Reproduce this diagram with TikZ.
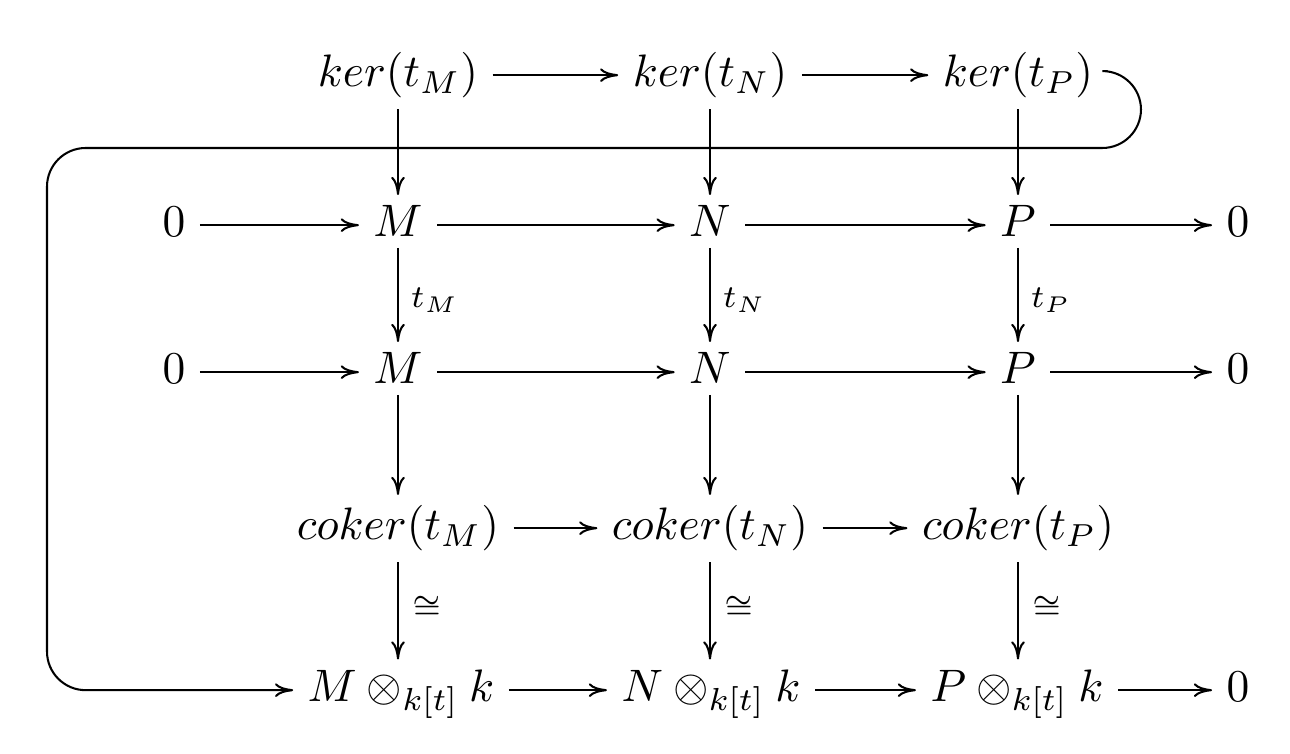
\documentclass[tikz,border=0pt]{standalone}
\usetikzlibrary{arrows.meta}
\begin{document}
\begin{tikzpicture}[x=0.2198pt,y=-0.2198pt,
  obj/.style={anchor=base,inner xsep=3pt,inner ysep=2.2pt},
  ar/.style={line width=0.45pt,-{Computer Modern Rightarrow[length=4pt,width=3pt]}},
  lab/.style={anchor=west,inner sep=0pt}]
\useasboundingbox (0,0) rectangle (1290,754);
% row 1
\node[obj] (k1) at (398,87) {$ker(t_M)$};
\node[obj] (k2) at (710,87) {$ker(t_N)$};
\node[obj] (k3) at (1018,87) {$ker(t_P)$};
% row 2
\node[obj] (z21) at (174,237) {$0$};
\node[obj] (m2) at (398,237) {$M$};
\node[obj] (n2) at (710,237) {$N$};
\node[obj] (p2) at (1018,237) {$P$};
\node[obj] (z22) at (1238,237) {$0$};
% row 3
\node[obj] (z31) at (174,384) {$0$};
\node[obj] (m3) at (398,384) {$M$};
\node[obj] (n3) at (710,384) {$N$};
\node[obj] (p3) at (1018,384) {$P$};
\node[obj] (z32) at (1238,384) {$0$};
% row 4
\node[obj] (c1) at (398,540) {$coker(t_M)$};
\node[obj] (c2) at (710,540) {$coker(t_N)$};
\node[obj] (c3) at (1018,540) {$coker(t_P)$};
% row 5
\node[obj] (t1) at (401,702) {$M\otimes_{k[t]}k$};
\node[obj] (t2) at (711,702) {$N\otimes_{k[t]}k$};
\node[obj] (t3) at (1017,702) {$P\otimes_{k[t]}k$};
\node[obj] (z5) at (1238,702) {$0$};
% horizontal arrows
\foreach \a/\b in {k1/k2,k2/k3,z21/m2,m2/n2,n2/p2,p2/z22,z31/m3,m3/n3,n3/p3,p3/z32,c1/c2,c2/c3,t1/t2,t2/t3,t3/z5}
  \draw[ar] ([yshift=2.6pt]\a.base east) -- ([yshift=2.6pt]\b.base west);
% vertical arrows
\foreach \a/\b in {k1/m2,k2/n2,k3/p2,m2/m3,n2/n3,p2/p3,m3/c1,n3/c2,p3/c3}
  \draw[ar] (\a) -- (\b);
\foreach \a/\b in {c1/t1,c2/t2,c3/t3}
  \draw[ar] (\a.south) -- (\a.south |- \b.north);
% labels
\node[lab] (lm) at (410,300) {$\scriptstyle t_M$};
\node[lab] (ln) at (722,300) {$\scriptstyle t_N$};
\node[lab] (lp) at (1030,300) {$\scriptstyle t_P$};
\node[lab] (im) at (412,607) {$\scriptstyle\cong$};
\node[lab] (in) at (724,607) {$\scriptstyle\cong$};
\node[lab] (ip) at (1032,607) {$\scriptstyle\cong$};
% snake
\coordinate (s) at ([yshift=3.5pt]k3.base east);
\draw[ar,rounded corners=8.5pt] (s) -- (1141,71) -- (1141,148) -- (47,148)
  |- ([yshift=2.6pt]t1.base west);
\end{tikzpicture}
\end{document}
